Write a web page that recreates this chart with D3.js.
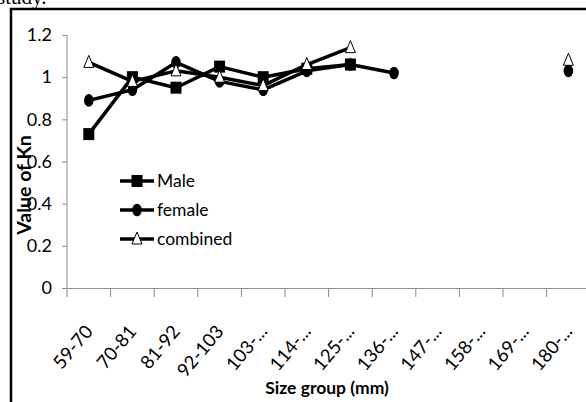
<!DOCTYPE html>
<html><head><meta charset="utf-8">
<script src="https://cdn.jsdelivr.net/npm/d3@7"></script>
<style>
body{margin:0;background:#fff;overflow:hidden}
svg{display:block}
</style></head>
<body>
<svg id="c" width="586" height="402"></svg>
<script>
const categories = ["59-70","70-81","81-92","92-103","103-...","114-...","125-...","136-...","147-...","158-...","169-...","180-..."];
const male     = [0.73, 1.00, 0.95, 1.05, 1.00, 1.04, 1.06, null, null, null, null, null];
const female   = [0.89, 0.94, 1.07, 0.98, 0.94, 1.03, 1.06, 1.02, null, null, null, 1.03];
const combined = [1.07, 0.98, 1.03, 1.00, 0.96, 1.06, 1.14, null, null, null, null, 1.08];
const yTicks = [0, 0.2, 0.4, 0.6, 0.8, 1, 1.2];
const seriesNames = ["Male","female","combined"];

const svg = d3.select("#c");
const font = 'Lato, "Liberation Sans Narrow", sans-serif';

// clipped caption from page above
svg.append("text").attr("x",-3).attr("y",4).attr("font-family","Liberation Serif, serif")
  .attr("font-size",21).text("study.");

// frame
svg.append("rect").attr("x",11).attr("y",9).attr("width",620).attr("height",440)
  .attr("fill","none").attr("stroke","#000").attr("stroke-width",2.5);

const x = d3.scaleBand().domain(categories).range([67, 67 + 12*43.6]);
const y = d3.scaleLinear().domain([0,1.2]).range([288,35]);

// y axis
const ya = svg.append("g").attr("transform","translate(67,0)")
  .call(d3.axisLeft(y).tickValues(yTicks).tickSize(5).tickPadding(10).tickFormat(d3.format("")));
ya.select(".domain").attr("stroke","#8c8c8c").attr("d","M0,35V288");
ya.selectAll(".tick line").attr("stroke","#8c8c8c");
ya.selectAll(".tick text").attr("font-family",font).attr("font-size",18).attr("fill","#000");

// x axis
const xa = svg.append("g").attr("transform","translate(0,288)")
  .call(d3.axisBottom(x).tickSize(0).tickFormat(""));
xa.select(".domain").attr("stroke","#8c8c8c");
xa.selectAll(".tick").remove();
const bounds = categories.map((c,i)=>x(c)).concat([x(categories[11])+x.bandwidth()]);
svg.append("g").selectAll("line").data(bounds).join("line")
  .attr("x1",d=>d).attr("x2",d=>d).attr("y1",288).attr("y2",297)
  .attr("stroke","#8c8c8c");
svg.append("g").selectAll("text").data(categories).join("text")
  .attr("transform",d=>`translate(${x(d)+x.bandwidth()/2+5},${332}) rotate(-50)`)
  .attr("text-anchor","end")
  .attr("font-family",font).attr("font-size",18.5).text(d=>d);

// titles
svg.append("text").attr("x",327).attr("y",394).attr("text-anchor","middle")
  .attr("font-family",font).attr("font-size",17.5).attr("font-weight","bold").text("Size group (mm)");
svg.append("text").attr("transform","translate(31,185) rotate(-90)").attr("text-anchor","middle")
  .attr("font-family",font).attr("font-size",19.5).attr("font-weight","bold").text("Value of Kn");

const cx = i => x(categories[i]) + x.bandwidth()/2;
const line = d3.line().defined(d=>d.v!=null).x(d=>cx(d.i)).y(d=>y(d.v));
const all = [male, female, combined];
all.forEach(s=>{
  const pts = s.map((v,i)=>({v,i}));
  svg.append("path").attr("d",line(pts)).attr("fill","none").attr("stroke","#000")
    .attr("stroke-width",3.5).attr("stroke-linejoin","round");
});

function marker(g, type, px, py){
  if(type===0) g.append("rect").attr("x",px-5.5).attr("y",py-6).attr("width",11).attr("height",12).attr("fill","#000");
  else if(type===1) g.append("ellipse").attr("cx",px).attr("cy",py).attr("rx",4.8).attr("ry",6.3).attr("fill","#000");
  else g.append("path").attr("d",`M${px},${py-7}L${px+5},${py+5}L${px-5},${py+5}Z`)
    .attr("fill","#fff").attr("stroke","#000").attr("stroke-width",1);
}
const mg = svg.append("g");
all.forEach((s,k)=>s.forEach((v,i)=>{ if(v!=null) marker(mg,k,cx(i),y(v)); }));

// legend
const leg = svg.append("g");
seriesNames.forEach((n,k)=>{
  const ly = 181 + k*29;
  leg.append("line").attr("x1",120).attr("x2",154).attr("y1",ly).attr("y2",ly)
    .attr("stroke","#000").attr("stroke-width",3.5);
  marker(leg,k,137,ly);
  leg.append("text").attr("x",157).attr("y",ly).attr("dy","0.35em")
    .attr("font-family",font).attr("font-size",17.5).text(n);
});
</script>
</body></html>
